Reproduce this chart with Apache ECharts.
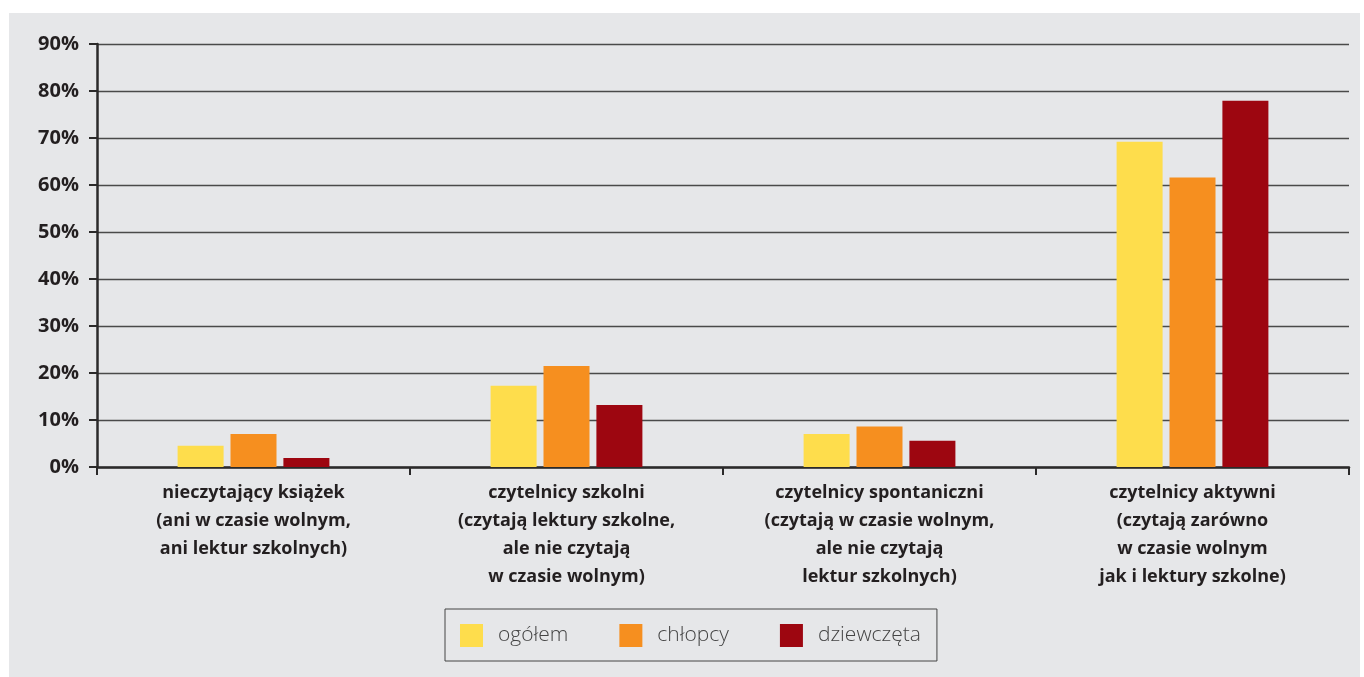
<!DOCTYPE html>
<html><head><meta charset="utf-8">
<script src="https://cdn.jsdelivr.net/npm/echarts@6/dist/echarts.min.js"></script>
<style>html,body{margin:0;padding:0;background:#fff}#c{width:1364px;height:677px}</style>
</head><body><div id="c"></div>
<script>
var categories = [
  "nieczytający książek\n(ani w czasie wolnym,\nani lektur szkolnych)",
  "czytelnicy szkolni\n(czytają lektury szkolne,\nale nie czytają\nw czasie wolnym)",
  "czytelnicy spontaniczni\n(czytają w czasie wolnym,\nale nie czytają\nlektur szkolnych)",
  "czytelnicy aktywni\n(czytają zarówno\nw czasie wolnym\njak i lektury szkolne)"
];
var seriesNames = ["ogółem", "chłopcy", "dziewczęta"];
var ogolem = [4.5, 17.3, 7.0, 69.2];
var chlopcy = [7.0, 21.5, 8.6, 61.6];
var dziewczeta = [1.9, 13.2, 5.6, 77.9];
var colors = ["#fedd4c", "#f68f1f", "#9d0610"];

var chart = echarts.init(document.getElementById('c'));
var font = "'Open Sans', 'Noto Sans', sans-serif";
function bar(name, data, color) {
  return { name: name, type: 'bar', data: data, barWidth: 46, barGap: '15%',
    itemStyle: { color: color }, z: 3 };
}
chart.setOption({
  animation: false,
  graphic: [{ type: 'rect', shape: { x: 9, y: 13, width: 1351, height: 664 }, style: { fill: '#e6e7e9' }, z: -10, silent: true }],
  grid: { left: 97, right: 15, top: 44, bottom: 210, containLabel: false },
  legend: {
    left: 445, top: 609,
    padding: [15, 16, 14, 15],
    borderColor: '#444', borderWidth: 1,
    itemWidth: 23, itemHeight: 23, itemGap: 51,
    icon: 'rect',
    textStyle: { fontFamily: font, fontSize: 21, color: '#444', fontWeight: 300, padding: [0, 0, 0, 10] },
    data: seriesNames
  },
  xAxis: {
    type: 'category', data: categories,
    axisLine: { lineStyle: { color: '#2b2a2a', width: 2.5 } },
    axisTick: { show: true, length: 8, lineStyle: { color: '#2b2a2a', width: 2 } },
    axisLabel: { interval: 0, margin: 12, fontFamily: font, fontWeight: 'bold', fontSize: 18, color: '#231f20', lineHeight: 28 }
  },
  yAxis: {
    type: 'value', min: 0, max: 90, interval: 10,
    axisLine: { show: true, lineStyle: { color: '#2b2a2a', width: 2.5 } },
    axisTick: { show: true, length: 8, lineStyle: { color: '#2b2a2a', width: 2 } },
    splitLine: { lineStyle: { color: '#4a4a4a', width: 1.3 } },
    axisLabel: { formatter: '{value}%', margin: 18, fontFamily: font, fontWeight: 'bold', fontSize: 20, color: '#231f20' }
  },
  series: [bar(seriesNames[0], ogolem, colors[0]), bar(seriesNames[1], chlopcy, colors[1]), bar(seriesNames[2], dziewczeta, colors[2])]
});
</script></body></html>
